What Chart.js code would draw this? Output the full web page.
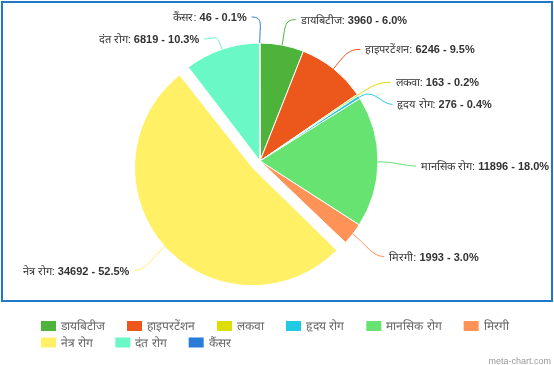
<!DOCTYPE html>
<html>
<head>
<meta charset="utf-8">
<script src="https://cdn.jsdelivr.net/npm/chart.js@4.4.1/dist/chart.umd.min.js"></script>
<style>
  html, body { margin: 0; padding: 0; background: #fff; }
  #wrap { width: 554px; height: 365px; }
</style>
</head>
<body>
<div id="wrap"><canvas id="pie" width="554" height="365"></canvas></div>
<script>
const categories = ['डायबिटीज', 'हाइपरटेंशन', 'लकवा', 'हृदय रोग', 'मानसिक रोग', 'मिरगी', 'नेत्र रोग', 'दंत रोग', 'कैंसर'];
const values = [3960, 6246, 163, 276, 11896, 1993, 34692, 6819, 46];
const sliceColors = ['#4db33a', '#ec571b', '#dddd00', '#22c9e2', '#66e371', '#ff9257', '#fff066', '#6af8c6', '#2b7bd8'];
const explodedSlice = 'नेत्र रोग';

const FONT = "'Liberation Sans', Arial, sans-serif";
const total = values.reduce((a, b) => a + b, 0);

// the library grows an exploded arc by offset/4, keep it at the normal radius
const keepRadius = {
  id: 'keepRadius',
  afterDatasetUpdate(chart, args) {
    args.meta.data.forEach(arc => {
      const shift = (arc.options.offset || 0) / 4;
      if (!shift) return;
      const fix = 1 - Math.sin(Math.min(Math.PI, arc.circumference));
      arc.outerRadius -= shift * fix;
    });
  }
};

const outLabels = {
  id: 'outLabels',
  afterDatasetsDraw(chart) {
    const ctx = chart.ctx;
    const meta = chart.getDatasetMeta(0);
    const ds = chart.data.datasets[0];

    const items = meta.data.map((arc, i) => {
      const mid = (arc.startAngle + arc.endAngle) / 2;
      const shift = (arc.options.offset || 0) / 4;
      const cx = arc.x + Math.cos(mid) * shift;
      const cy = arc.y + Math.sin(mid) * shift;
      const fix = 1 - Math.sin(Math.min(Math.PI, arc.circumference));
      const r = arc.outerRadius + shift * fix;
      const cos = Math.cos(mid), sin = Math.sin(mid);
      return {
        i, cos, sin, cx, cy, r,
        dir: cos >= 0 ? 1 : -1,
        y: cy + sin * (r + 30) + 4,
        x: cx + cos * (r + 30)
      };
    });

    // push labels apart on each side
    [1, -1].forEach(side => {
      const list = items.filter(it => it.dir === side).sort((a, b) => a.y - b.y);
      for (let k = 1; k < list.length; k++) {
        if (list[k].y < list[k - 1].y + 22) list[k].y = list[k - 1].y + 22;
      }
    });

    ctx.save();
    items.forEach(it => {
      const color = ds.backgroundColor[it.i];
      const ax = it.cx + it.cos * it.r;
      const ay = it.cy + it.sin * it.r;
      const endX = it.x + it.dir * 8;

      ctx.strokeStyle = color;
      ctx.lineWidth = 1;
      ctx.beginPath();
      ctx.moveTo(ax, ay);
      ctx.bezierCurveTo(it.cx + it.cos * (it.r + 18), it.cy + it.sin * (it.r + 18),
                        endX - it.dir * 12, it.y, endX, it.y);
      ctx.stroke();

      const value = ds.data[it.i];
      const name = chart.data.labels[it.i] + ': ';
      const tail = value + ' - ' + (value / total * 100).toFixed(1) + '%';
      ctx.textBaseline = 'middle';
      ctx.textAlign = 'left';
      ctx.font = '11px ' + FONT;
      const w1 = ctx.measureText(name).width;
      ctx.font = 'bold 11px ' + FONT;
      const w2 = ctx.measureText(tail).width;
      const tx = it.dir > 0 ? endX + 5 : endX - 5 - w1 - w2;
      ctx.fillStyle = '#333';
      ctx.font = '11px ' + FONT;
      ctx.fillText(name, tx, it.y + 1);
      ctx.font = 'bold 11px ' + FONT;
      ctx.fillText(tail, tx + w1, it.y + 1);
    });
    ctx.restore();
  }
};

const frameAndLegend = {
  id: 'frameAndLegend',
  beforeDraw(chart) {
    const ctx = chart.ctx;
    ctx.save();
    ctx.fillStyle = '#fff';
    ctx.fillRect(0, 0, chart.width, chart.height);
    ctx.restore();
  },
  afterDraw(chart) {
    const ctx = chart.ctx;
    const ds = chart.data.datasets[0];
    ctx.save();
    ctx.strokeStyle = '#1f78c9';
    ctx.lineWidth = 2;
    ctx.strokeRect(2, 2, 550, 299);

    // legend rows under the frame
    ctx.font = '12px ' + FONT;
    ctx.textBaseline = 'middle';
    ctx.textAlign = 'left';
    let x = 41, y = 326;
    chart.data.labels.forEach((name, i) => {
      const w = 20 + ctx.measureText(name).width;
      if (x + w > 545) { x = 41; y += 16.5; }
      ctx.fillStyle = ds.backgroundColor[i];
      ctx.fillRect(x, y - 5, 15, 10);
      ctx.fillStyle = '#666';
      ctx.fillText(name, x + 20, y + 1);
      x += w + 22;
    });

    ctx.font = '9px ' + FONT;
    ctx.fillStyle = '#999';
    ctx.textAlign = 'right';
    ctx.textBaseline = 'alphabetic';
    ctx.fillText('meta-chart.com', 551, 364);
    ctx.restore();
  }
};

new Chart(document.getElementById('pie'), {
  type: 'pie',
  data: {
    labels: categories,
    datasets: [{
      data: values,
      backgroundColor: sliceColors,
      borderColor: '#fff',
      borderWidth: 1,
      radius: 118,
      offset: ctx => categories[ctx.dataIndex] === explodedSlice ? 40 : 0
    }]
  },
  options: {
    responsive: false,
    animation: false,
    events: [],
    layout: { padding: { left: 20, right: 54, top: 20, bottom: 63 } },
    plugins: {
      legend: { display: false },
      tooltip: { enabled: false }
    }
  },
  plugins: [keepRadius, outLabels, frameAndLegend]
});
</script>
</body>
</html>
